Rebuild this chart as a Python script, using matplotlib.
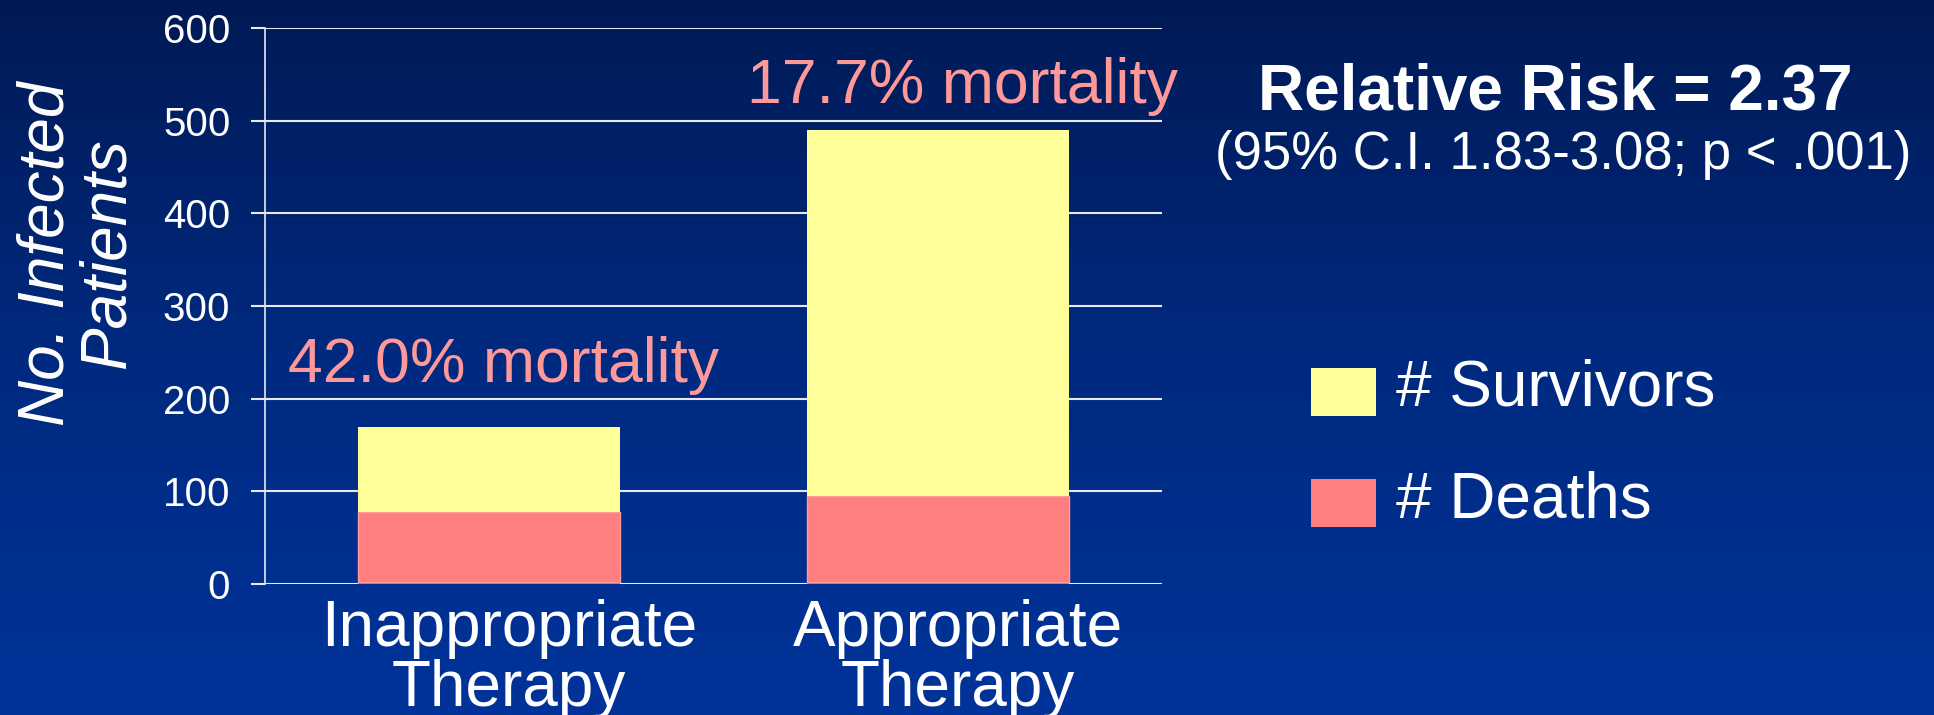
import matplotlib
matplotlib.use("Agg")
import matplotlib.pyplot as plt
import matplotlib.patches as mpatches
from matplotlib.colors import LinearSegmentedColormap
from matplotlib.legend_handler import HandlerPatch
from matplotlib.container import BarContainer
from matplotlib.transforms import ScaledTranslation
import numpy as np

plt.rcParams['font.family'] = ['Liberation Sans', 'DejaVu Sans']

# ---- data ----
categories = ["Inappropriate\nTherapy", "Appropriate\nTherapy"]
base_band = [2.5, 2.5]          # thin teal band at bar bottoms
deaths = [75, 92]               # height of the deaths segment
survivors = [92, 395]           # height of the survivors segment
mortality_labels = ["42.0% mortality", "17.7% mortality"]
y_ticks = [0, 100, 200, 300, 400, 500, 600]

W, H = 1934, 715
fig = plt.figure(figsize=(W / 100, H / 100), dpi=100)

# gradient background
bg = fig.add_axes([0, 0, 1, 1], zorder=-10)
cmap = LinearSegmentedColormap.from_list("bg", ["#011A55", "#002A80", "#00339A"])
grad = np.linspace(0, 1, 256).reshape(-1, 1)
bg.imshow(grad, aspect="auto", cmap=cmap, extent=[0, 1, 0, 1], origin="upper")
bg.set_axis_off()

ax = fig.add_axes([265 / W, 1 - 584 / H, (1162 - 265) / W, (584 - 28) / H])
ax.patch.set_alpha(0)

x = np.arange(len(categories))
bw = 0.585
b0 = ax.bar(x, base_band, bw, color="#00CC99", linewidth=0, zorder=3)
bottom1 = np.array(base_band)
b1 = ax.bar(x, deaths, bw, bottom=bottom1, color="#FF7F7F",
            edgecolor="#FF9A9A", linewidth=1.0, zorder=3, label="# Deaths")
bottom2 = bottom1 + np.array(deaths)
b2 = ax.bar(x, survivors, bw, bottom=bottom2, color="#FFFF99",
            linewidth=0, zorder=3, label="# Survivors")

ax.set_xlim(-0.5, 1.5)
ax.set_ylim(0, 600)
ax.set_yticks(y_ticks)
ax.set_yticklabels([str(t) for t in y_ticks])
ax.yaxis.grid(True, color="#E8E8F2", linewidth=1.5, zorder=0)
ax.set_axisbelow(True)
for s in ["top", "right", "bottom"]:
    ax.spines[s].set_visible(False)
ax.spines["left"].set_color("#E8E8F2")
ax.spines["left"].set_linewidth(1.2)
ax.tick_params(axis="y", colors="#E8E8F2", length=10, width=1.5, pad=15,
               labelsize=29, labelcolor="white")
ax.set_xticks(x)
ax.set_xticklabels(categories, fontsize=46, color="white", linespacing=1.0)
ax.tick_params(axis="x", length=0, pad=11)
off = ScaledTranslation(20 / 100, 0, fig.dpi_scale_trans)
for lab in ax.get_xticklabels():
    lab.set_transform(lab.get_transform() + off)

# mortality annotations
label_pos = [(0.033, 218), (1.056, 519)]
for (lx, ly), txt in zip(label_pos, mortality_labels):
    ax.text(lx, ly, txt, ha="center", va="baseline", fontsize=45, color="#FF9999")

# y label
fig.text(77 / W, 1 - 254 / H, "No. Infected\nPatients", rotation=90, ha="center",
         va="center", fontsize=46, style="italic", color="white",
         linespacing=1.01, multialignment="center")

# relative risk text
fig.text(1555 / W, 1 - 109 / H, "Relative Risk = 2.37", ha="center", va="baseline",
         fontsize=46, fontweight="bold", color="white")
fig.text(1563 / W, 1 - 169 / H, "(95% C.I. 1.83-3.08; p < .001)", ha="center",
         va="baseline", fontsize=38, color="white")


def shifted_patch(legend, orig_handle, xdescent, ydescent, width, height, fontsize):
    return mpatches.Rectangle((-xdescent, -ydescent - 6), width, height)


def copy_first(tgt, src):
    tgt.update_from(src.patches[0])
    tgt.set_edgecolor("none")


leg = fig.legend(handles=[b2, b1], labels=["# Survivors", "# Deaths"],
                 loc="upper left", bbox_to_anchor=(1311 / W, 1 - 359 / H),
                 frameon=False, fontsize=46, labelcolor="white",
                 handlelength=1.02, handleheight=0.77, handletextpad=0.31,
                 labelspacing=0.8, borderpad=0, borderaxespad=0,
                 handler_map={BarContainer: HandlerPatch(patch_func=shifted_patch,
                                                         update_func=copy_first)})

fig.savefig("out.png", dpi=100)
